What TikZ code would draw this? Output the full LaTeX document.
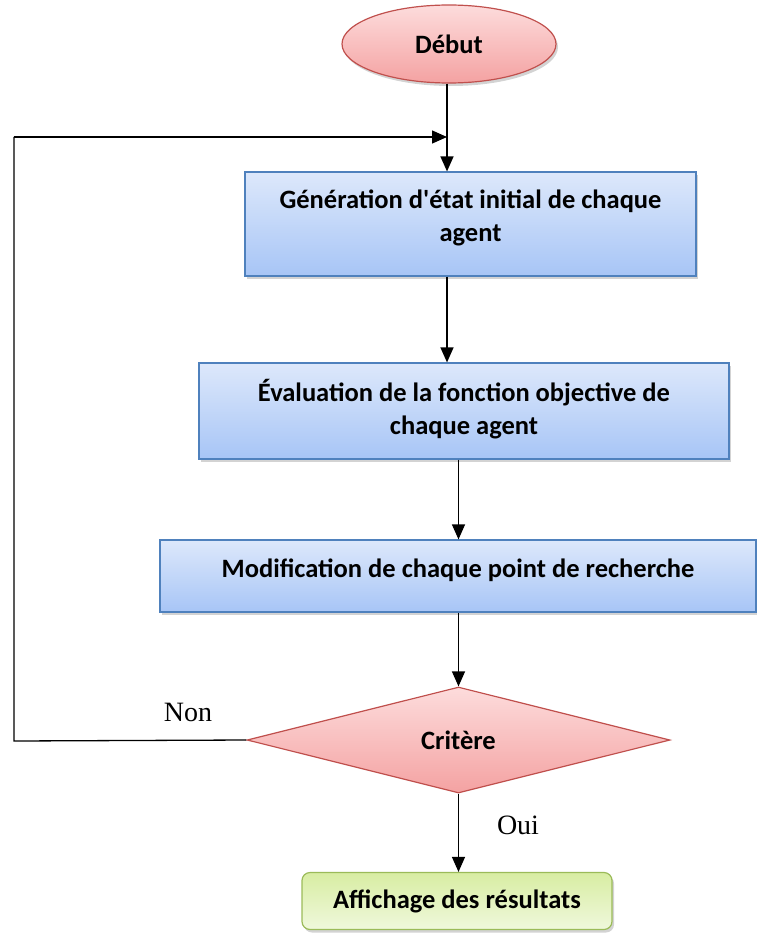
\documentclass[tikz,border=0pt]{standalone}
\usepackage{fontspec}
\setmainfont{Carlito}
\newfontfamily\timesfont{Liberation Serif}
\usepackage{tikz}
\usetikzlibrary{shapes.geometric, arrows.meta, shadows, calc}

\definecolor{bleuhaut}{HTML}{DDE8FB}
\definecolor{bleubas}{HTML}{A7C5F6}
\definecolor{bleubord}{HTML}{4F81BD}
\definecolor{rougehaut}{HTML}{FDDCDC}
\definecolor{rougebas}{HTML}{F4A2A2}
\definecolor{rougebord}{HTML}{C0504D}
\definecolor{verthaut}{HTML}{D8EDA3}
\definecolor{vertbas}{HTML}{EFF8DC}
\definecolor{vertbord}{HTML}{9BBB59}

\tikzset{
    ombre/.style={drop shadow={opacity=0.35, shadow xshift=2pt, shadow yshift=-3pt}},
    gras/.style={font=\fontsize{26.5}{33}\selectfont\bfseries},
    debutfin/.style={ellipse, draw=rougebord, line width=1.2pt, top color=rougehaut, bottom color=rougebas,
        minimum width=214pt, minimum height=78pt, ombre, gras},
    etape/.style={rectangle, draw=bleubord, line width=1.2pt, top color=bleuhaut, bottom color=bleubas, ombre},
    texteboite/.style={align=flush center, inner sep=0pt, gras},
    decision/.style={diamond, aspect=4, draw=rougebord, line width=1.2pt, top color=rougehaut, bottom color=rougebas,
        minimum width=423pt, minimum height=106pt, inner sep=0pt, gras},
    resultat/.style={rectangle, rounded corners=8pt, draw=vertbord, line width=1.2pt, top color=verthaut, bottom color=vertbas,
        minimum width=310pt, minimum height=57pt, ombre, gras},
    fleche/.style={line width=1.3pt, -{Triangle[length=15pt, width=13pt]}},
    trait/.style={line width=1.3pt},
    etiquette/.style={font=\timesfont\fontsize{28}{32}\selectfont}
}

\begin{document}
\begin{tikzpicture}[x=1pt, y=-1pt]
    \useasboundingbox (0,0) rectangle (756,936);

    % Nodes
    \node[debutfin] (debut) at (449,44) {\raisebox{-2pt}{Début}};
    \node[etape, minimum width=451pt, minimum height=104pt] (gen) at (470.5,224) {};
    \node[texteboite] (gentxt) at (470.5,218) {Génération d\textquotesingle état initial de chaque\\agent};
    \node[etape, minimum width=530pt, minimum height=96pt] (eval) at (464,411) {};
    \node[texteboite] (evaltxt) at (464,409) {Évaluation de la fonction objective de\\chaque agent};
    \node[etape, minimum width=596pt, minimum height=72pt] (modif) at (458,576) {};
    \node[texteboite] (modiftxt) at (458,570) {Modification de chaque point de recherche};
    \node[decision] (critere) at (458.5,740) {Critère};
    \node[resultat] (affich) at (457,901) {Affichage des résultats};

    % Junction of the loop
    \coordinate (j) at (447,137);
    \coordinate (g1) at (14,137);
    \coordinate (g2) at (14,741);

    % Arrows
    \draw[fleche] (debut.south -| j) -- (j |- gen.north);
    \draw[fleche] (j |- gen.south) -- (j |- eval.north);
    \draw[fleche] (critere.north |- eval.south) -- (critere.north |- modif.north);
    \draw[fleche] (critere.north |- modif.south) -- (critere.north);
    \draw[fleche] (critere.south) -- (critere.south |- affich.north);

    % Loop back
    \draw[trait] (critere.west) -- (g2) -- (g1);
    \draw[fleche] (g1) -- (j);

    % Labels
    \node[etiquette] (non) at (188,712) {Non};
    \node[etiquette] (oui) at (518,825) {Oui};
\end{tikzpicture}
\end{document}
